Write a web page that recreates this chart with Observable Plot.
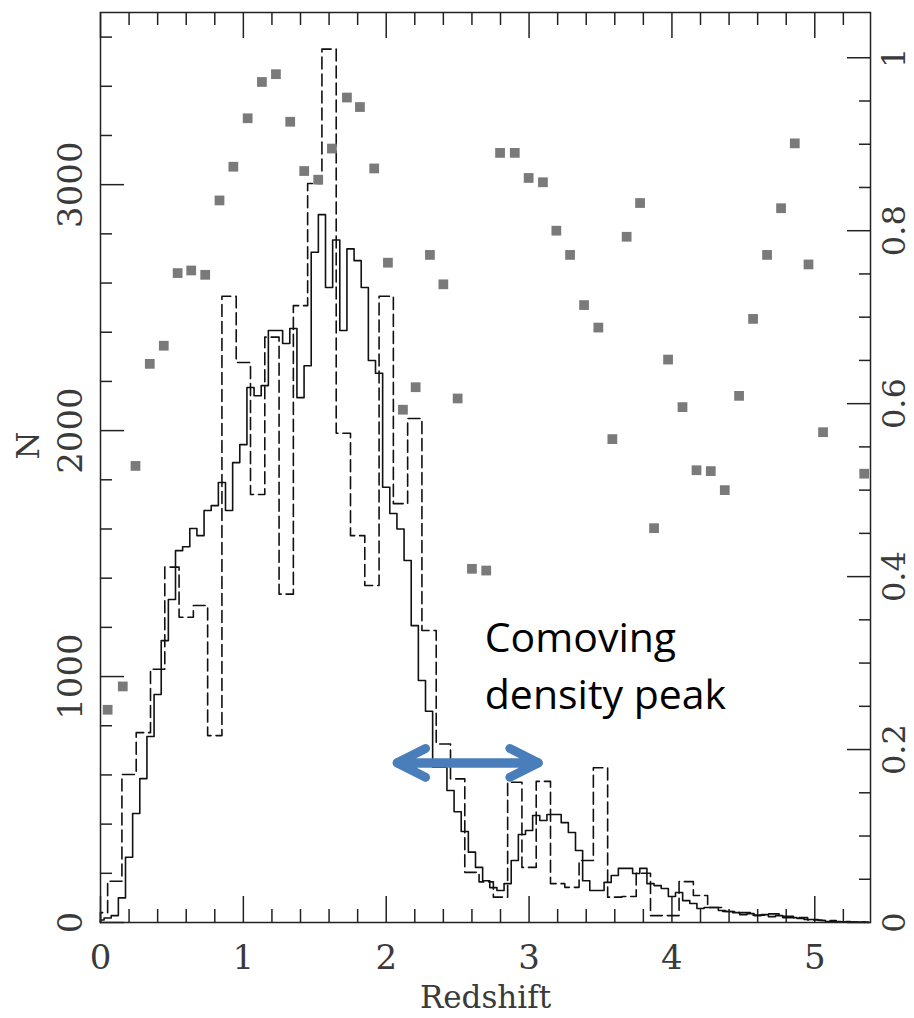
<!DOCTYPE html>
<html><head><meta charset="utf-8">
<script src="https://cdn.jsdelivr.net/npm/d3@7"></script>
<script src="https://cdn.jsdelivr.net/npm/@observablehq/plot@0.6"></script>
<style>body{margin:0;background:#fff} svg{display:block}</style>
</head><body><div id="chart"></div>
<script>
// Solid histogram: bins of width 0.05 centred on 0, 0.05, 0.10, ... (N per bin)
const solidN = [10,18,28,100,265,443,585,756,927,1146,
  1313,1512,1528,1602,1573,1675,1695,1789,1675,1870,
  1943,2175,2142,2183,2407,2407,2354,2415,2134,2264,
  2725,2878,2582,2775,2407,2739,2691,2582,2285,2233,
  1770,1663,1600,1472,1207,984,859,631,631,537,
  450,370,286,224,170,142,130,158,252,358,
  374,435,415,439,439,406,366,293,170,130,
  130,163,191,220,220,199,220,158,150,138,
  106,122,89,77,57,61,61,49,45,40,
  32,36,28,32,24,28,20,20,16,12,
  12,8,4,3,3,2,2,2];
const SOLID_BIN = 0.05;

// Dashed histogram: bin edges and N per bin
const dashedEdges = [0,0.05,0.15,0.25,0.35,0.45,0.55,0.65,0.75,0.85,0.95,
  1.05,1.15,1.25,1.35,1.45,1.55,1.65,1.75,1.85,1.95,
  2.05,2.15,2.25,2.35,2.45,2.55,2.65,2.75,2.85,2.95,
  3.05,3.15,3.25,3.35,3.45,3.55,3.65,3.75,3.85,3.95,
  4.05,4.15,4.25,4.35,4.45,4.55,4.65,4.75,4.85,4.95,
  5.05,5.15,5.25,5.35];
const dashedN = [40,168,602,772,1030,1445,1241,1289,760,2546,
  2277,1740,2380,1335,2508,3005,3551,1989,1573,1370,
  2546,1703,2049,1187,726,584,204,165,103,570,
  224,574,158,143,252,629,103,106,200,28,
  28,166,110,61,45,40,30,35,25,20,
  10,8,4,2];

// Grey squares (right axis fraction)
const fracZ = [0.05,0.156,0.245,0.345,0.443,0.54,0.635,0.733,0.833,0.93,
  1.03,1.13,1.228,1.328,1.426,1.524,1.62,1.725,1.816,1.916,
  2.012,2.117,2.206,2.306,2.40,2.50,2.60,2.70,2.797,2.90,
  2.997,3.097,3.191,3.287,3.385,3.485,3.583,3.683,3.777,3.875,
  3.973,4.074,4.172,4.272,4.37,4.47,4.568,4.666,4.764,4.86,
  4.956,5.058,5.346];
const fracV = [0.246,0.273,0.528,0.646,0.667,0.751,0.754,0.749,0.835,0.874,
  0.930,0.972,0.981,0.926,0.869,0.859,0.895,0.954,0.943,0.872,
  0.763,0.593,0.619,0.772,0.738,0.606,0.409,0.407,0.890,0.890,
  0.861,0.856,0.800,0.772,0.714,0.688,0.559,0.793,0.832,0.456,
  0.651,0.596,0.523,0.522,0.500,0.609,0.698,0.772,0.826,0.901,
  0.761,0.567,0.519];

// Axis ticks
const xTickLabels = [0,1,2,3,4,5];
const xMinor = [0.2,0.4,0.6,0.8,1.2,1.4,1.6,1.8,2.2,2.4,2.6,2.8,3.2,3.4,3.6,3.8,4.2,4.4,4.6,4.8,5.2];
const yTickLabels = [0,1000,2000,3000];
const yMinor = [200,400,600,800,1200,1400,1600,1800,2200,2400,2600,2800,3200,3400,3600];
const rTickLabels = [0,0.2,0.4,0.6,0.8,1];
const rMinor = [0.05,0.1,0.15,0.25,0.3,0.35,0.45,0.5,0.55,0.65,0.7,0.75,0.85,0.9,0.95];
const RIGHT_FULL = 3516; // N-equivalent of fraction 1 on the right axis

// Build step outlines
function stepLine(lo, hi, vals) {
  const pts = [{x: lo[0], y: 0}];
  vals.forEach((v, i) => { pts.push({x: lo[i], y: v}, {x: hi[i], y: v}); });
  pts.push({x: hi[vals.length - 1], y: 0});
  return pts;
}
const sLo = solidN.map((_, k) => Math.max(0, (k - 0.5) * SOLID_BIN));
const sHi = solidN.map((_, k) => (k + 0.5) * SOLID_BIN);
const solidPts = stepLine(sLo, sHi, solidN);
const dashedPts = stepLine(dashedEdges.slice(0, -1), dashedEdges.slice(1), dashedN);
const points = fracZ.map((z, i) => ({z, f: fracV[i]}));

const W = 914, H = 1018, MT = 12, MB = 96, ML = 100, MR = 44;
const FH = H - MT - MB, FW = W - ML - MR;
const ink = "#222";
const serif = "DejaVu Serif";
const lab = "#3a3a3a";
const blue = "#4a7ebb";

const chart = Plot.plot({
  width: W, height: H,
  marginTop: MT, marginBottom: MB, marginLeft: ML, marginRight: MR,
  x: {domain: [0, 5.39], axis: null},
  y: {domain: [0, 3700], axis: null},
  marks: [
    // ticks (inward)
    Plot.ruleX(xTickLabels, {x: d => d, insetTop: FH - 26, stroke: ink, strokeWidth: 1.5}),
    Plot.ruleX(xMinor, {x: d => d, insetTop: FH - 13, stroke: ink, strokeWidth: 1.5}),
    Plot.ruleX(xTickLabels, {x: d => d, insetBottom: FH - 26, stroke: ink, strokeWidth: 1.5}),
    Plot.ruleX(xMinor, {x: d => d, insetBottom: FH - 13, stroke: ink, strokeWidth: 1.5}),
    Plot.ruleY(yTickLabels, {y: d => d, insetRight: FW - 24, stroke: ink, strokeWidth: 1.5}),
    Plot.ruleY(yMinor, {y: d => d, insetRight: FW - 12, stroke: ink, strokeWidth: 1.5}),
    Plot.ruleY(rTickLabels, {y: d => d * RIGHT_FULL, insetLeft: FW - 23, stroke: ink, strokeWidth: 1.5}),
    Plot.ruleY(rMinor, {y: d => d * RIGHT_FULL, insetLeft: FW - 11, stroke: ink, strokeWidth: 1.5}),
    // histograms
    Plot.line(dashedPts, {x: "x", y: "y", stroke: "#111", strokeWidth: 1.6, strokeDasharray: "12,5"}),
    Plot.line(solidPts, {x: "x", y: "y", stroke: "#111", strokeWidth: 1.6}),
    // fraction points
    Plot.dot(points, {x: "z", y: d => d.f * RIGHT_FULL, symbol: "square", r: 5.5, fill: "#7a7a7a", stroke: null}),
    Plot.frame({stroke: ink, strokeWidth: 1.5}),
    // tick labels
    Plot.text(xTickLabels, {x: d => d, text: d => String(d), frameAnchor: "bottom", lineAnchor: "top", dy: 22,
      fontSize: 34, fontFamily: serif, fill: lab}),
    Plot.text(yTickLabels, {y: d => d, text: d => String(d), frameAnchor: "left", rotate: -90, dx: -29,
      textAnchor: "middle", lineAnchor: "middle", fontSize: 34, fontFamily: serif, fill: lab}),
    Plot.text(rTickLabels, {y: d => d * RIGHT_FULL, text: d => String(d), frameAnchor: "right", rotate: -90, dx: 24,
      textAnchor: "middle", lineAnchor: "middle", fontSize: 32, fontFamily: serif, fill: lab}),
    // axis titles
    Plot.text(["Redshift"], {frameAnchor: "bottom", text: d => d, lineAnchor: "bottom", dy: 85,
      fontSize: 31, fontFamily: serif, fill: lab}),
    Plot.text(["N"], {frameAnchor: "left", text: d => d, rotate: -90, dx: -72, dy: -8,
      lineAnchor: "middle", fontSize: 32, fontFamily: serif, fill: lab}),
    // annotation
    Plot.text(["Comoving\ndensity peak"], {x: 2.69, y: 869, text: d => d, textAnchor: "start", lineAnchor: "bottom",
      lineHeight: 1.38, fontSize: 41, fontFamily: "Open Sans", fill: "#000"}),
    Plot.arrow([{x1: 3.064, x2: 2.077, y: 649}, {x1: 2.077, x2: 3.064, y: 649}], {
      x1: "x1", x2: "x2", y1: "y", y2: "y", stroke: blue, strokeWidth: 9,
      headLength: 5.3, headAngle: 54, strokeLinecap: "round", strokeLinejoin: "round"})
  ]
});
document.getElementById("chart").appendChild(chart);
</script>
</body></html>
